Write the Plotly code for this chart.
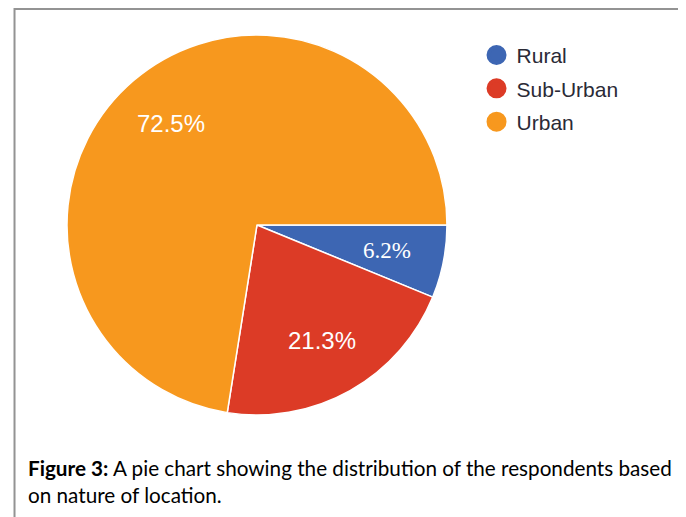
import math
import plotly.graph_objects as go

labels = ['Rural', 'Sub-Urban', 'Urban']
values = [6.2, 21.3, 72.5]
colors = ['#3D66B3', '#DC3B26', '#F7981E']
label_fonts = ['Liberation Serif, Times New Roman, serif', 'Liberation Sans', 'Liberation Sans']
label_sizes = [23, 24, 24]
caption = '<b>Figure 3:</b> A pie chart showing the distribution of the respondents based<br>on nature of location.'

W, H = 686, 517
dom_x = [0.0860, 0.6399]
dom_y = [0.2128, 0.9478]

fig = go.Figure()

fig.add_trace(go.Pie(labels=labels, values=values, sort=False, direction='clockwise', rotation=90,
                     marker=dict(colors=colors, line=dict(color='white', width=1.5)),
                     textinfo='none', showlegend=False, hoverinfo='label+percent',
                     domain=dict(x=dom_x, y=dom_y)))

# legend entries with round markers
for name, col in zip(labels, colors):
    fig.add_trace(go.Scatter(x=[None], y=[None], mode='markers', name=name, legendgroup=name,
                             marker=dict(symbol='circle', size=16, color=col, line=dict(color=col, width=4))))

# percentage labels placed along each slice bisector (like the original chart)
cx = (dom_x[0] + dom_x[1]) / 2
cy = (dom_y[0] + dom_y[1]) / 2
R = (dom_x[1] - dom_x[0]) * W / 2
r = 0.7 * R
total = sum(values)
annots = []
start = 0.0
for v, fam, sz in zip(values, label_fonts, label_sizes):
    mid = math.radians((start + v / 2) / total * 360)
    start += v
    annots.append(dict(text='%.1f%%' % v, xref='paper', yref='paper',
                       x=cx + r * math.cos(mid) / W, y=cy - r * math.sin(mid) / H,
                       xanchor='center', yanchor='middle', showarrow=False,
                       font=dict(family=fam, size=sz, color='white')))

annots.append(dict(text=caption, xref='paper', yref='paper', x=0.0262, y=0.0845, xanchor='left', yanchor='middle',
                   align='left', showarrow=False, font=dict(family='Lato', size=20.7, color='black')))

fig.update_layout(width=W, height=H, margin=dict(l=0, r=0, t=0, b=0),
                  paper_bgcolor='white', plot_bgcolor='white',
                  xaxis=dict(visible=False), yaxis=dict(visible=False),
                  legend=dict(x=0.683, y=0.948, xanchor='left', yanchor='top', tracegroupgap=3,
                              font=dict(family='Liberation Sans', size=21, color='#2a2a36'),
                              itemwidth=30, bgcolor='rgba(0,0,0,0)'),
                  shapes=[dict(type='rect', xref='paper', yref='paper', x0=0.0095, x1=0.981, y0=-0.05, y1=0.998,
                               line=dict(color='#939393', width=2), fillcolor='rgba(0,0,0,0)')],
                  annotations=annots)

fig.write_html('out.html')
